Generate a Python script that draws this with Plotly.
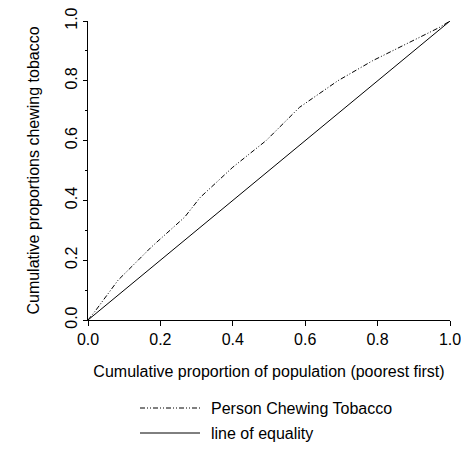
import plotly.graph_objects as go

# Concentration curve data
pop_share = [0.0, 0.02, 0.083, 0.175, 0.267, 0.31, 0.40, 0.492, 0.584, 0.69, 0.786, 0.878, 0.97, 1.0]
chew_share = [0.0, 0.03, 0.133, 0.244, 0.344, 0.41, 0.511, 0.60, 0.711, 0.80, 0.867, 0.922, 0.978, 1.0]
equality = [0.0, 1.0]

series_names = ["Person Chewing Tobacco", "line of equality"]
x_title = "Cumulative proportion of population (poorest first)"
y_title = "Cumulative proportions chewing tobacco"
tick_vals = [0.0, 0.2, 0.4, 0.6, 0.8, 1.0]

FONT = "Liberation Sans, Arial, sans-serif"
DASH = "5px,2px,1px,2px,1px,2px"

fig = go.Figure()
fig.add_trace(go.Scatter(x=pop_share, y=chew_share, mode="lines",
                         line=dict(color="black", width=1, dash=DASH),
                         name=series_names[0], showlegend=False))
fig.add_trace(go.Scatter(x=equality, y=equality, mode="lines",
                         line=dict(color="black", width=1),
                         name=series_names[1], showlegend=False))

# manual legend
L = dict(l=88, r=11, t=21, b=142)
W, H = 461, 462
pw = W - L["l"] - L["r"]
ph = H - L["t"] - L["b"]
def px(xp):
    return (xp - L["l"]) / pw
def py(yp):
    return (H - L["b"] - yp) / ph

legend_rows = [(408, DASH), (433, "solid")]
for (ypx, dash), name in zip(legend_rows, series_names):
    fig.add_shape(type="line", xref="paper", yref="paper",
                  x0=px(140), x1=px(200), y0=py(ypx), y1=py(ypx),
                  line=dict(color="black", width=1, dash=dash))
    fig.add_annotation(xref="paper", yref="paper", x=px(209), y=py(ypx),
                       text=name, showarrow=False, xanchor="left", yanchor="middle",
                       font=dict(size=16, color="black", family=FONT))

fig.update_layout(
    width=W, height=H, margin=dict(L, autoexpand=False),
    paper_bgcolor="white", plot_bgcolor="white",
    font=dict(family=FONT, size=16, color="black"),
    showlegend=False,
)
fig.update_xaxes(range=[0, 1], tickvals=tick_vals, tickformat=".1f",
                 ticks="outside", ticklen=5, tickcolor="black",
                 ticklabeloverflow="allow", automargin=False,
                 showline=True, linecolor="black", linewidth=1,
                 showgrid=False, zeroline=False,
                 title=dict(text=x_title, standoff=18, font=dict(size=16)))
fig.update_yaxes(range=[0, 1], tickvals=tick_vals, tickformat=".1f", tickangle=-90,
                 ticks="outside", ticklen=4, tickcolor="black",
                 ticklabeloverflow="allow", automargin=False,
                 minor=dict(dtick=0.1, ticks="outside", ticklen=2, tickcolor="black"),
                 showline=True, linecolor="black", linewidth=1,
                 showgrid=False, zeroline=False,
                 title=dict(text=y_title, standoff=18, font=dict(size=16)))

fig.write_html("out.html")
